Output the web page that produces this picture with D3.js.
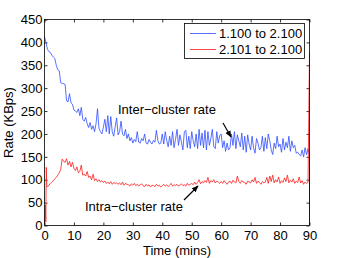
<!DOCTYPE html>
<html>
<head>
<meta charset="utf-8">
<script src="https://cdn.jsdelivr.net/npm/d3@7"></script>
<style>
  body { margin: 0; background: #fff; }
  svg text { font-family: "Liberation Sans", Arial, sans-serif; font-size: 13px; fill: #000; }
</style>
</head>
<body>
<div id="chart"></div>
<script>
// donnees (pas de 0.5 min)
var xTicks = [0, 10, 20, 30, 40, 50, 60, 70, 80, 90];
var yTicks = [0, 50, 100, 150, 200, 250, 300, 350, 400, 450];
var seriesNames = ["1.100 to 2.100", "2.101 to 2.100"];
var stepMins = 0.5;

// inter-cluster (bleu), t = 0 .. 89.5, une ligne = 5 min
var blueRate = [
  412,400,385,380,378,372,368,365,350,340,
  338,312,310,310,308,272,270,288,268,265,
  252,250,247,255,240,258,232,228,236,222,
  214,225,210,218,205,222,255,212,205,200,
  215,232,205,240,200,238,205,195,215,235,
  198,205,228,200,196,210,190,200,185,192,
  180,188,183,205,182,180,190,185,200,180,
  178,188,182,178,186,182,208,185,178,180,
  200,178,205,186,172,195,175,205,170,188,
  210,175,198,182,165,205,208,170,195,168,
  205,185,172,200,168,210,175,202,170,208,
  165,205,175,190,210,172,168,205,180,196,
  200,170,185,162,180,165,170,200,175,205,
  168,198,185,172,202,165,195,160,198,178,
  165,195,170,158,190,180,165,170,195,162,
  192,168,200,185,165,155,180,168,195,172,
  178,160,190,165,182,170,195,162,185,170,
  175,158,160,155,152,165,150,170,155,168
];
var blueTail = [[90, 155], [90, 0]];

// intra-cluster (rouge), debut irregulier
var redHead = [[0, 2], [0.3, 45], [0.45, 8], [0.6, 127], [0.8, 86]];
// t = 1 .. 4.5 puis 5 .. 89.5
var redRate = [
  84,88,92,95,98,102,105,110,
  115,122,145,140,138,146,132,140,128,138,
  125,120,128,115,118,132,110,112,108,118,
  105,108,100,112,98,102,96,100,95,98,
  94,97,92,95,91,96,90,94,92,93,
  90,93,89,95,88,92,90,89,86,91,
  88,92,87,90,86,89,91,87,85,90,
  86,89,84,88,87,85,90,86,88,84,
  87,90,86,89,85,88,92,86,89,87,
  90,86,88,91,87,89,86,92,88,90,
  92,89,95,90,94,100,91,96,93,98,
  94,105,92,98,95,100,93,97,95,92,
  96,92,98,94,90,95,97,92,99,95,
  93,108,96,92,98,95,94,90,97,95,
  93,100,95,105,92,97,94,90,96,93,
  95,105,92,108,96,110,93,100,95,106,
  92,98,94,104,96,110,93,99,95,102,
  92,97,94,106,93,98,90,95,92,94
];
var redTail = [[90, 378]];

var colors = ["#2f4dff", "#ff1a1a"];

// construire les points
var bluePts = blueRate.map(function(v, i) { return [i * stepMins, v]; }).concat(blueTail);
var redPts = redHead.concat(redRate.map(function(v, i) { return [1 + i * stepMins, v]; })).concat(redTail);

var W = 343, H = 258;
var margin = {top: 19.5, right: 33.5, bottom: 32.5, left: 44.5};

var svg = d3.select("#chart").append("svg")
  .attr("width", W).attr("height", H);

var x = d3.scaleLinear().domain([0, 90]).range([margin.left, W - margin.right]);
var y = d3.scaleLinear().domain([0, 450]).range([H - margin.bottom, margin.top]);

// axes (ticks vers l'interieur, style matlab)
svg.append("g")
  .attr("transform", "translate(0," + y(0) + ")")
  .call(d3.axisBottom(x).tickValues(xTicks).tickSize(-3).tickSizeOuter(0).tickPadding(5));
svg.append("g")
  .attr("transform", "translate(" + x(0) + ",0)")
  .call(d3.axisLeft(y).tickValues(yTicks).tickSize(-3).tickSizeOuter(0).tickPadding(2));
svg.append("g")
  .attr("transform", "translate(0," + y(450) + ")")
  .call(d3.axisTop(x).tickValues(xTicks).tickSize(-3).tickSizeOuter(0).tickFormat(""));
svg.append("g")
  .attr("transform", "translate(" + x(90) + ",0)")
  .call(d3.axisRight(y).tickValues(yTicks).tickSize(-3).tickSizeOuter(0).tickFormat(""));

svg.selectAll(".domain").remove();
svg.selectAll(".tick line").attr("stroke", "#000").attr("stroke-width", 0.8);
svg.selectAll(".tick text").style("font-size", "13px");

var line = d3.line()
  .x(function(d) { return x(d[0]); })
  .y(function(d) { return y(d[1]); });

svg.append("path").datum(bluePts)
  .attr("d", line).attr("fill", "none")
  .attr("stroke", colors[0]).attr("stroke-width", 0.8);
svg.append("path").datum(redPts)
  .attr("d", line).attr("fill", "none")
  .attr("stroke", colors[1]).attr("stroke-width", 0.8);

// cadre
svg.append("rect")
  .attr("x", x(0)).attr("y", y(450))
  .attr("width", x(90) - x(0)).attr("height", y(0) - y(450))
  .attr("fill", "none").attr("stroke", "#000").attr("stroke-width", 0.8);

// labels des axes
svg.append("text")
  .attr("x", (x(0) + x(90)) / 2).attr("y", 254.5)
  .attr("text-anchor", "middle").text("Time (mins)");
svg.append("text")
  .attr("transform", "translate(13," + ((y(0) + y(450)) / 2) + ") rotate(-90)")
  .attr("text-anchor", "middle").text("Rate (KBps)");

// legende
var leg = svg.append("g");
leg.append("rect")
  .attr("x", 184.5).attr("y", 23.5).attr("width", 120).attr("height", 35)
  .attr("fill", "#fff").attr("stroke", "#000").attr("stroke-width", 0.8);
seriesNames.forEach(function(name, i) {
  var ly = 33.5 + i * 16;
  leg.append("line")
    .attr("x1", 190).attr("x2", 216).attr("y1", ly).attr("y2", ly)
    .attr("stroke", colors[i]).attr("stroke-width", 0.8);
  leg.append("text").attr("x", 219).attr("y", ly + 4.5).text(name);
});

// annotations avec fleches
svg.append("defs").append("marker")
  .attr("id", "arrow").attr("viewBox", "0 0 10 10")
  .attr("refX", 9).attr("refY", 5)
  .attr("markerWidth", 7).attr("markerHeight", 7)
  .attr("markerUnits", "userSpaceOnUse")
  .attr("orient", "auto")
  .append("path").attr("d", "M0,1 L10,5 L0,9 z").attr("fill", "#000");

svg.append("text").attr("x", 118).attr("y", 114).text("Inter\u2212cluster rate");
svg.append("line")
  .attr("x1", 223).attr("y1", 123).attr("x2", 231).attr("y2", 137)
  .attr("stroke", "#000").attr("stroke-width", 1.2).attr("marker-end", "url(#arrow)");

svg.append("text").attr("x", 85).attr("y", 211).text("Intra\u2212cluster rate");
svg.append("line")
  .attr("x1", 184).attr("y1", 200).attr("x2", 198).attr("y2", 186)
  .attr("stroke", "#000").attr("stroke-width", 1.2).attr("marker-end", "url(#arrow)");
</script>
</body>
</html>
